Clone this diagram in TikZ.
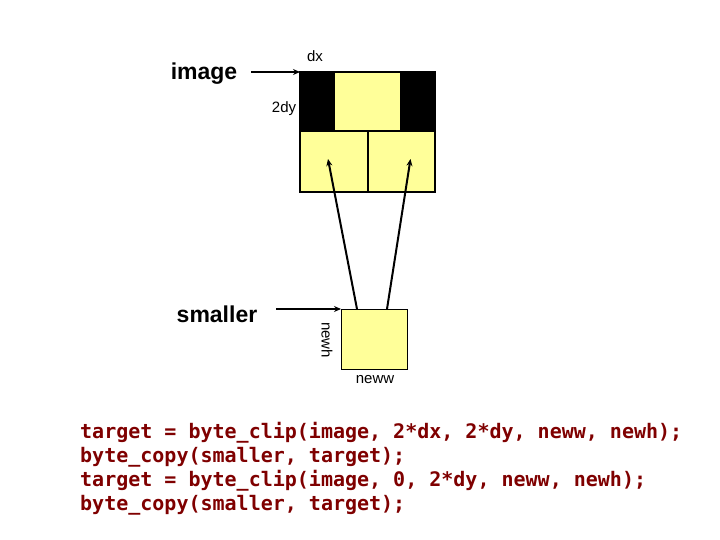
\documentclass[tikz,border=0pt]{standalone}
\usepackage{fontspec}
\setmainfont{Liberation Sans}
\newfontfamily\codefont{DejaVu Sans Mono}
\usetikzlibrary{arrows.meta}
\definecolor{celly}{HTML}{FFFF99}
\definecolor{codered}{HTML}{7F0000}
\tikzset{
  cellbox/.style={draw=black, line width=1.5pt, fill=celly, inner sep=0pt, outer sep=0pt, rectangle},
  bigword/.style={font=\fontsize{23}{26}\selectfont\bfseries, inner sep=0pt},
  smallword/.style={font=\fontsize{15}{17}\selectfont, inner sep=0pt},
  arr/.style={line width=2pt, -{Stealth[length=7pt,width=6pt]}},
  codeline/.style={font=\codefont\bfseries\fontsize{20}{24}\selectfont, text=codered, inner sep=0pt, align=left, anchor=north west}
}
\begin{document}
\begin{tikzpicture}[x=1pt,y=-1pt]
\useasboundingbox (0,0) rectangle (720,540);
% big image block
\node[cellbox, fill=black, minimum width=135pt, minimum height=59pt] (band) at (367.5,101.5) {};
\node[rectangle, fill=celly, inner sep=0pt, minimum width=65pt, minimum height=57.5pt] (topcell) at (367.5,101.5) {};
\node[cellbox, minimum width=68pt, minimum height=61pt] (cellBL) at (334,161.5) {};
\node[cellbox, minimum width=67pt, minimum height=61pt] (cellBR) at (401.5,161.5) {};
% small block
\node[cellbox, line width=1pt, minimum width=66pt, minimum height=60pt] (small) at (374,339) {};
% labels
\node[bigword] (lblimage) at (204,74) {image};
\node[bigword] (lblsmaller) at (217,314) {smaller};
\node[smallword] (lbldx) at (315,56) {dx};
\node[smallword] (lbldy) at (284,109) {2dy};
\node[smallword, rotate=-90] (lblnewh) at (327,340) {newh};
\node[smallword] (lblneww) at (375,380) {neww};
% connectors
\coordinate (imgstart) at (251,72);
\draw[arr] (imgstart) -- (band.north west);
\coordinate (smlstart) at (276,309);
\draw[arr] (smlstart) -- (small.north west);
\draw[arr] ([xshift=-17pt]small.north) -- ([xshift=-6pt,yshift=2.5pt]cellBL.center);
\draw[arr] ([xshift=13pt]small.north) -- ([xshift=9pt,yshift=2.5pt]cellBR.center);
% code
\node[codeline] (code) at (80,422) {target = byte\_clip(image, 2*dx, 2*dy, neww, newh);\\
byte\_copy(smaller, target);\\
target = byte\_clip(image, 0, 2*dy, neww, newh);\\
byte\_copy(smaller, target);};
\end{tikzpicture}
\end{document}
